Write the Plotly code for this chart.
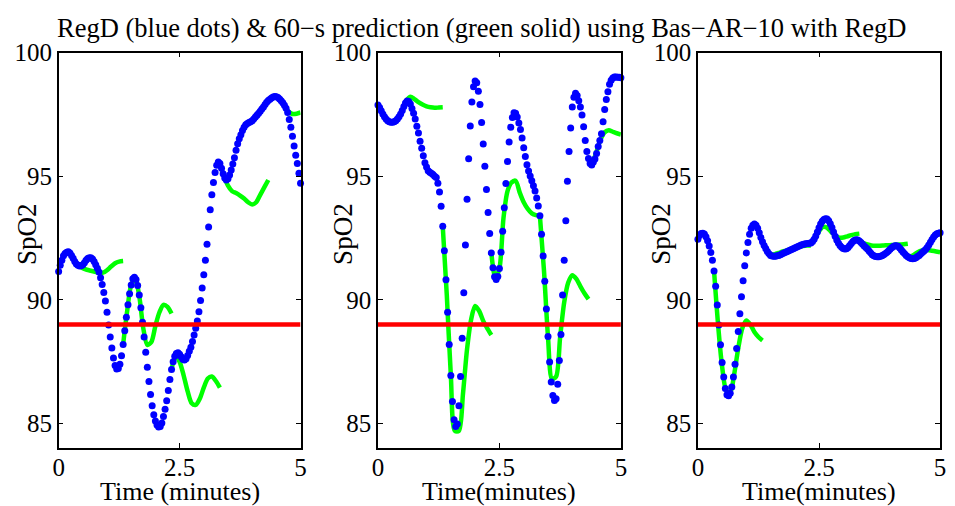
import plotly.graph_objects as go

# ---------------- data ----------------
SAMPLE_MIN = 2.0 / 60.0          # blue dots every 2 s
PRED_STEP_MIN = 5.0 / 60.0       # green prediction points every 5 s
THRESHOLD = 89

x_ticks = [0, 2.5, 5]
x_tick_text = ["0", "2.5", "5"]
y_ticks = [85, 90, 95, 100]
y_tick_text = ["85", "90", "95", "100"]

regd_1 = [91.15, 91.4, 91.6, 91.78, 91.88, 91.93, 91.95, 91.9, 91.8, 91.68,
          91.55, 91.45, 91.4, 91.37, 91.38, 91.42, 91.5, 91.6, 91.67, 91.7,
          91.7, 91.65, 91.55, 91.42, 91.28, 91.13, 90.9, 90.62, 90.3, 89.95,
          89.5, 88.98, 88.5, 88.05, 87.65, 87.35, 87.2, 87.22, 87.4, 87.74,
          88.2, 88.75, 89.3, 89.8, 90.25, 90.6, 90.85, 90.92, 90.82, 90.58,
          90.2, 89.68, 89.1, 88.5, 87.88, 87.28, 86.7, 86.17, 85.72, 85.35,
          85.1, 84.94, 84.86, 84.88, 85.02, 85.28, 85.58, 85.92, 86.33, 86.78,
          87.18, 87.5, 87.72, 87.83, 87.86, 87.8, 87.7, 87.6, 87.57, 87.62,
          87.75, 87.92, 88.08, 88.32, 88.58, 88.85, 89.15, 89.52, 89.98, 90.48,
          91.02, 91.6, 92.25, 92.95, 93.65, 94.25, 94.75, 95.15, 95.45, 95.58,
          95.52, 95.32, 95.1, 94.93, 94.85, 94.9, 95.05, 95.25, 95.5, 95.75,
          96.05, 96.32, 96.52, 96.68, 96.85, 96.98, 97.08, 97.13, 97.17, 97.2,
          97.25, 97.32, 97.4, 97.47, 97.55, 97.63, 97.72, 97.8, 97.9, 97.99,
          98.06, 98.12, 98.17, 98.21, 98.23, 98.22, 98.19, 98.13, 98.05, 97.97,
          97.87, 97.75, 97.58, 97.3, 96.98, 96.62, 96.22, 95.85, 95.52, 95.12,
          94.72]

regd_2 = [97.88, 97.78, 97.65, 97.52, 97.41, 97.32, 97.25, 97.2, 97.18, 97.18,
          97.2, 97.25, 97.32, 97.41, 97.52, 97.66, 97.82, 97.96, 98.04, 98.02,
          97.92, 97.74, 97.55, 97.32, 97.02, 96.75, 96.42, 96.13, 95.83, 95.55,
          95.37, 95.22, 95.16, 95.12, 95.07, 95.0, 94.95, 94.72, 94.36, 93.79,
          92.98, 91.99, 90.81, 89.5, 88.2, 86.94, 85.89, 85.15, 84.88, 84.98,
          85.72, 86.9, 88.45, 90.29, 92.22, 94.07, 95.71, 97.03, 98.0, 98.62,
          98.85, 98.78, 98.44, 97.9, 97.17, 96.31, 95.41, 94.46, 93.53, 92.68,
          91.9, 91.3, 90.94, 90.82, 90.95, 91.27, 91.93, 92.78, 93.73, 94.71,
          95.6, 96.39, 96.98, 97.38, 97.57, 97.55, 97.4, 97.15, 96.89, 96.55,
          96.15, 95.8, 95.47, 95.21, 95.01, 94.82, 94.62, 94.4, 94.12, 93.8,
          93.4, 92.65, 91.77, 90.75, 89.63, 88.52, 87.49, 86.68, 86.13, 85.93,
          86.0, 86.59, 87.55, 88.6, 90.2, 91.6, 93.2, 94.8, 96.0, 96.95,
          97.8, 98.2, 98.36, 98.27, 98.05, 97.8, 97.48, 97.0, 96.45, 96.0,
          95.72, 95.52, 95.46, 95.58, 95.7, 95.92, 96.2, 96.45, 96.72, 97.2,
          97.7, 98.1, 98.42, 98.72, 98.88, 98.97, 99.02, 99.02, 99.01, 99.0,
          98.98]

regd_3 = [92.45, 92.6, 92.68, 92.7, 92.66, 92.55, 92.39, 92.18, 91.92, 91.6,
          91.17, 90.55, 89.79, 88.98, 88.19, 87.47, 86.88, 86.42, 86.16, 86.12,
          86.22, 86.48, 86.88, 87.4, 88.03, 88.72, 89.44, 90.13, 90.77, 91.38,
          91.9, 92.32, 92.65, 92.9, 93.02, 93.07, 93.02, 92.9, 92.72, 92.52,
          92.35, 92.2, 92.08, 91.96, 91.87, 91.8, 91.77, 91.76, 91.76, 91.78,
          91.8, 91.83, 91.86, 91.89, 91.92, 91.95, 91.98, 92.01, 92.04, 92.07,
          92.1, 92.13, 92.16, 92.19, 92.22, 92.24, 92.26, 92.27, 92.28, 92.29,
          92.3, 92.36, 92.45, 92.58, 92.75, 92.92, 93.07, 93.18, 93.25, 93.28,
          93.27, 93.2, 93.08, 92.93, 92.75, 92.57, 92.42, 92.3, 92.2, 92.13,
          92.08, 92.06, 92.07, 92.12, 92.2, 92.28, 92.36, 92.41, 92.43, 92.42,
          92.38, 92.32, 92.25, 92.18, 92.12, 92.06, 91.98, 91.9, 91.83, 91.78,
          91.75, 91.74, 91.74, 91.76, 91.79, 91.83, 91.87, 91.92, 91.98, 92.05,
          92.11, 92.16, 92.19, 92.19, 92.17, 92.1, 92.02, 91.94, 91.87, 91.8,
          91.74, 91.7, 91.67, 91.66, 91.67, 91.7, 91.75, 91.8, 91.86, 91.92,
          91.98, 92.04, 92.12, 92.22, 92.33, 92.44, 92.54, 92.62, 92.67, 92.7,
          92.72]

pred_starts = [1 / 3, 4 / 3, 7 / 3, 10 / 3, 13 / 3]   # minutes

pred_1 = [
    [91.55, 91.4, 91.28, 91.22, 91.18, 91.14, 91.1, 91.1, 91.2, 91.35, 91.48, 91.55, 91.57],
    [88.2, 89.55, 90.6, 90.85, 90.15, 88.85, 88.18, 88.3, 88.95, 89.5, 89.8, 89.72, 89.45],
    [87.18, 87.75, 87.5, 86.95, 86.3, 85.82, 85.75, 86.0, 86.45, 86.82, 86.9, 86.72, 86.45],
    [95.52, 95.0, 94.62, 94.4, 94.32, 94.22, 94.1, 93.95, 93.86, 93.95, 94.25, 94.55, 94.85],
    [98.06, 98.19, 98.2, 98.1, 97.85, 97.62, 97.52, 97.53, 97.58],
]
pred_2 = [
    [97.2, 97.36, 97.66, 98.05, 98.22, 98.12, 98.0, 97.9, 97.83, 97.79, 97.77, 97.78, 97.79],
    [92.98, 90.2, 86.95, 84.7, 84.7, 86.2, 88.0, 89.2, 89.75, 89.55, 89.15, 88.85, 88.58],
    [91.9, 90.9, 91.27, 93.3, 94.4, 94.75, 94.82, 94.35, 93.95, 93.68, 93.5, 93.43, 93.42],
    [93.4, 91.2, 88.5, 86.8, 86.9, 88.5, 89.9, 90.7, 91.0, 90.85, 90.55, 90.27, 90.03],
    [95.72, 95.62, 96.0, 96.5, 96.78, 96.86, 96.8, 96.74, 96.69],
]
pred_3 = [
    [91.17, 89.0, 87.3, 86.35, 86.25, 87.0, 88.05, 88.85, 89.17, 89.0, 88.7, 88.5, 88.36],
    [92.35, 92.0, 91.85, 91.85, 91.9, 91.96, 92.0, 92.05, 92.1, 92.15, 92.18, 92.2, 92.2],
    [92.3, 92.5, 92.78, 92.95, 92.92, 92.75, 92.6, 92.52, 92.52, 92.57, 92.62, 92.66, 92.68],
    [92.38, 92.3, 92.24, 92.2, 92.19, 92.19, 92.2, 92.21, 92.22, 92.23, 92.24, 92.25, 92.27],
    [91.74, 91.78, 91.88, 91.97, 92.02, 92.02, 91.99, 91.96, 91.93],
]

title_text = "RegD (blue dots) & 60\u2212s prediction (green solid) using Bas\u2212AR\u221210 with RegD"
x_labels = ["Time (minutes)", "Time(minutes)", "Time(minutes)"]
y_label = "SpO2"

# ---------------- styling ----------------
W, H = 955, 506
FONT = "Liberation Serif"
BLUE = "#0000ff"
GREEN = "#00ff00"
RED = "#ff0000"

panels_px = [(53.3, 298.3), (376.7, 622.7), (700.7, 946.0)]
top_px, bottom_px = 40.7, 446.7
y_dom = [1 - bottom_px / H, 1 - top_px / H]

fig = go.Figure()

series = [(regd_1, pred_1), (regd_2, pred_2), (regd_3, pred_3)]
for p, (regd, preds) in enumerate(series):
    xa = "x" if p == 0 else f"x{p+1}"
    ya = "y" if p == 0 else f"y{p+1}"
    # green predictions (underneath)
    for start, seg in zip(pred_starts, preds):
        xs = [start + k * PRED_STEP_MIN for k in range(len(seg))]
        fig.add_trace(go.Scatter(x=xs, y=seg, mode="lines",
                                 line=dict(color=GREEN, width=4.5, shape="spline", smoothing=0.8),
                                 xaxis=xa, yaxis=ya, showlegend=False, hoverinfo="skip"))
    # blue dots
    ts = [i * SAMPLE_MIN for i in range(len(regd))]
    fig.add_trace(go.Scatter(x=ts, y=regd, mode="markers",
                             marker=dict(color=BLUE, size=7, line=dict(width=0)),
                             cliponaxis=False,
                             xaxis=xa, yaxis=ya, showlegend=False, hoverinfo="skip"))
    # red threshold
    fig.add_trace(go.Scatter(x=[0, 5], y=[THRESHOLD, THRESHOLD], mode="lines",
                             line=dict(color=RED, width=4.5),
                             xaxis=xa, yaxis=ya, showlegend=False, hoverinfo="skip"))

axis_common = dict(showline=True, linecolor="black", linewidth=1.5, mirror="ticks",
                   ticks="inside", ticklen=5, tickwidth=1, tickcolor="black",
                   showgrid=False, zeroline=False,
                   tickfont=dict(family=FONT, size=25, color="black"))

layout = dict(width=W, height=H, margin=dict(l=0, r=0, t=0, b=0),
              paper_bgcolor="white", plot_bgcolor="white", showlegend=False)

for p, (l, r) in enumerate(panels_px):
    sfx = "" if p == 0 else str(p + 1)
    layout[f"xaxis{sfx}"] = dict(axis_common, domain=[l / W, r / W], range=[0, 5],
                                 tickvals=x_ticks, ticktext=x_tick_text,
                                 ticklabelstandoff=-4,
                                 anchor=f"y{sfx}")
    layout[f"yaxis{sfx}"] = dict(axis_common, domain=y_dom, range=[84, 100],
                                 tickvals=y_ticks, ticktext=y_tick_text,
                                 anchor=f"x{sfx}")

annotations = [dict(text=title_text, x=482 / W, y=1 - 15 / H, xref="paper", yref="paper",
                    xanchor="center", yanchor="middle", showarrow=False,
                    font=dict(family=FONT, size=26.5, color="black"))]
ylab_x = [21, 341, 663]
for p, (l, r) in enumerate(panels_px):
    annotations.append(dict(text=x_labels[p], x=(l + r) / 2 / W, y=1 - 491 / H,
                            xref="paper", yref="paper", xanchor="center", yanchor="middle",
                            showarrow=False, font=dict(family=FONT, size=26, color="black")))
    annotations.append(dict(text=y_label, x=ylab_x[p] / W, y=1 - 227 / H, textangle=-90,
                            xref="paper", yref="paper", xanchor="center", yanchor="middle",
                            showarrow=False, font=dict(family=FONT, size=27, color="black")))
layout["annotations"] = annotations

fig.update_layout(**layout)
fig.write_html("out.html")
